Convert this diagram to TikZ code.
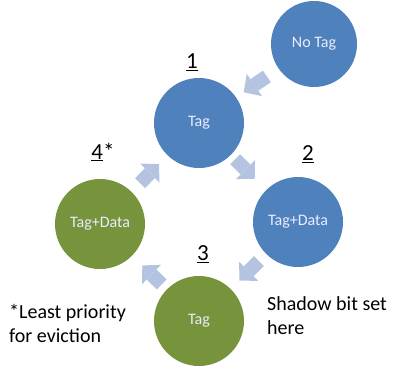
\documentclass[tikz,border=0pt]{standalone}
\usepackage{fontspec}
\setmainfont{Carlito}
\usepackage{tikz}
\usetikzlibrary{positioning,arrows.meta}

\definecolor{stateblue}{HTML}{4F81BD}
\definecolor{stategreen}{HTML}{77933C}
\definecolor{flowblue}{HTML}{B4C4E0}

\begin{document}
\begin{tikzpicture}[
  x=1pt, y=-1pt,
  state/.style={circle, minimum size=90pt, inner sep=0pt, text=white!92!blue,
    font=\fontsize{16}{18}\selectfont},
  hot/.style={state, fill=stateblue},
  cold/.style={state, fill=stategreen},
  num/.style={inner sep=0pt, font=\fontsize{23}{26}\selectfont},
  note/.style={inner sep=0pt, align=left, anchor=base west,
    font=\fontsize{20}{24}\selectfont},
  flow/.style={draw=flowblue, line width=14pt,
    -{Triangle[length=13pt, width=27pt, line width=0pt]}}
]
\useasboundingbox (0,0) rectangle (393,370);

% states
\node[hot, minimum size=86pt] (notag) at (314,44) {No Tag};
\node[hot]  (tag)  at (199,123) {Tag};
\node[hot]  (two)  at (298,222) {Tag+Data};
\node[cold] (thr)  at (199,321) {Tag};
\node[cold] (four) at (100,224) {Tag+Data};

% step numbers
\node[num] (n1) at (192,62)  {\underline{1}};
\node[num] (n2) at (308,154) {\underline{2}};
\node[num] (n3) at (203,254) {\underline{3}};
\node[num] (n4) at (103,152) {\underline{4}*};

% transitions
\draw[flow, shorten <=14pt, shorten >=9pt]  (notag) -- (tag);
\draw[flow, shorten <=6pt,  shorten >=16pt] (tag)   -- (two);
\draw[flow, shorten <=10pt, shorten >=12pt] (two)   -- (thr);
\draw[flow, shorten <=7pt,  shorten >=14pt] (thr)   -- (four);
\draw[flow, shorten <=12pt, shorten >=12pt] (four)  -- (tag);

% notes
\node[note] (shadow) at (267,334) {Shadow bit set\\here};
\node[note] (least)  at (9,342)   {*Least priority\\for eviction};
\end{tikzpicture}
\end{document}
